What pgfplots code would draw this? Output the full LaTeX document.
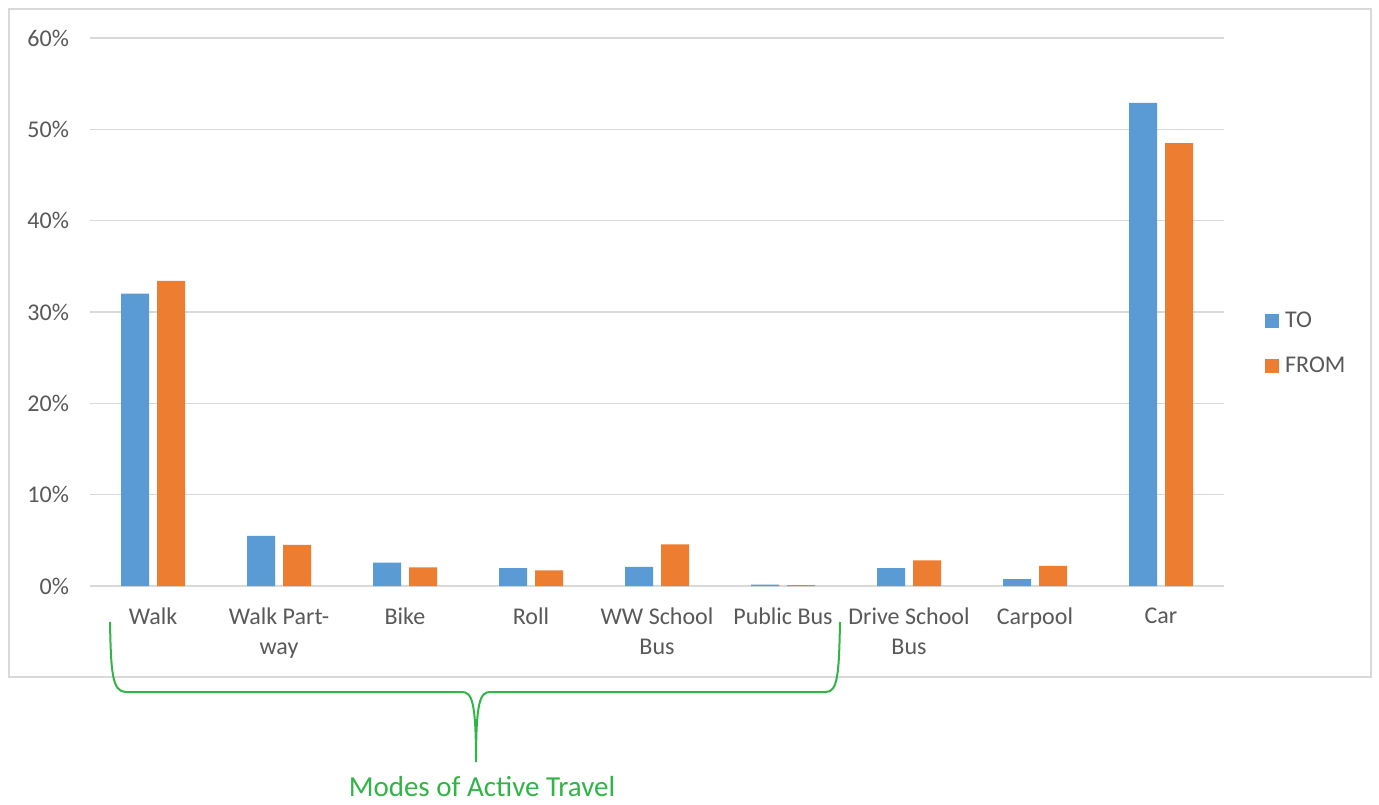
\documentclass[border=0pt]{standalone}
\usepackage{pgfplots}
\pgfplotsset{compat=1.18}
\usepackage{fontspec}
\setmainfont{Carlito}
\definecolor{tobl}{HTML}{5B9BD5}
\definecolor{fror}{HTML}{ED7D31}
\definecolor{grd}{HTML}{D9D9D9}
\definecolor{txt}{HTML}{595959}
\definecolor{grn}{RGB}{50,180,70}
\begin{document}
\begin{tikzpicture}
\useasboundingbox (0,0) rectangle (689.5pt,402pt);
\begin{scope}[yshift=402pt,x=0.5pt,y=-0.5pt]
  \fill[white] (0,0) rectangle (1379,804);
  \draw[grd, line width=1pt] (9,9) rectangle (1371,677);
  \draw[grn, line width=1pt] (110,622) .. controls (111,672) and (112,692) .. (126,692) -- (462,692) .. controls (472,692) and (476,702) .. (476,762)
     .. controls (476,702) and (480,692) .. (490,692) -- (826,692) .. controls (838,692) and (839,672) .. (840,622);
  \node[grn, font=\fontsize{14.5}{17}\selectfont, inner sep=0pt] at (482,787) {Modes of Active Travel};
\end{scope}
\begin{axis}[
  at={(45pt,109pt)}, anchor=south west, scale only axis,
  width=567pt, height=274pt,
  xmin=-0.5, xmax=8.5, ymin=0, ymax=60,
  ybar=4pt, bar width=14pt,
  ytick={0,10,20,30,40,50,60},
  yticklabels={0\%,10\%,20\%,30\%,40\%,50\%,60\%},
  xtick={0,1,2,3,4,5,6,7,8},
  xticklabels={Walk,{Walk Part-\\way},Bike,Roll,{WW School\\Bus},Public Bus,{Drive School\\Bus},Carpool,Car},
  xticklabel style={align=center, font=\fontsize{12}{15}\selectfont, text=txt, yshift=-7.5pt},
  yticklabel style={font=\fontsize{12}{15}\selectfont, text=txt, xshift=-7pt},
  axis line style={draw=none},
  major tick length=0pt,
  ymajorgrids, grid style={grd, line width=0.8pt},
  legend style={draw=none, fill=none, at={(1.036,0.4425)}, anchor=west,
    font=\fontsize{12}{14}\selectfont, text=txt, inner sep=0pt, row sep=10.5pt,
    nodes={inner sep=1.5pt}},
  legend cell align=left,
  legend image code/.code={\fill[#1] (0pt,-3.5pt) rectangle (7pt,3.5pt); \path (8.5pt,0pt);},
]
\addplot[fill=tobl, draw=none] coordinates {(0,32.0)(1,5.5)(2,2.55)(3,1.95)(4,2.1)(5,0.15)(6,1.95)(7,0.75)(8,52.9)};
\addplot[fill=fror, draw=none] coordinates {(0,33.4)(1,4.5)(2,2.05)(3,1.7)(4,4.55)(5,0.1)(6,2.8)(7,2.2)(8,48.5)};
\legend{TO,FROM}
\end{axis}
\end{tikzpicture}
\end{document}
